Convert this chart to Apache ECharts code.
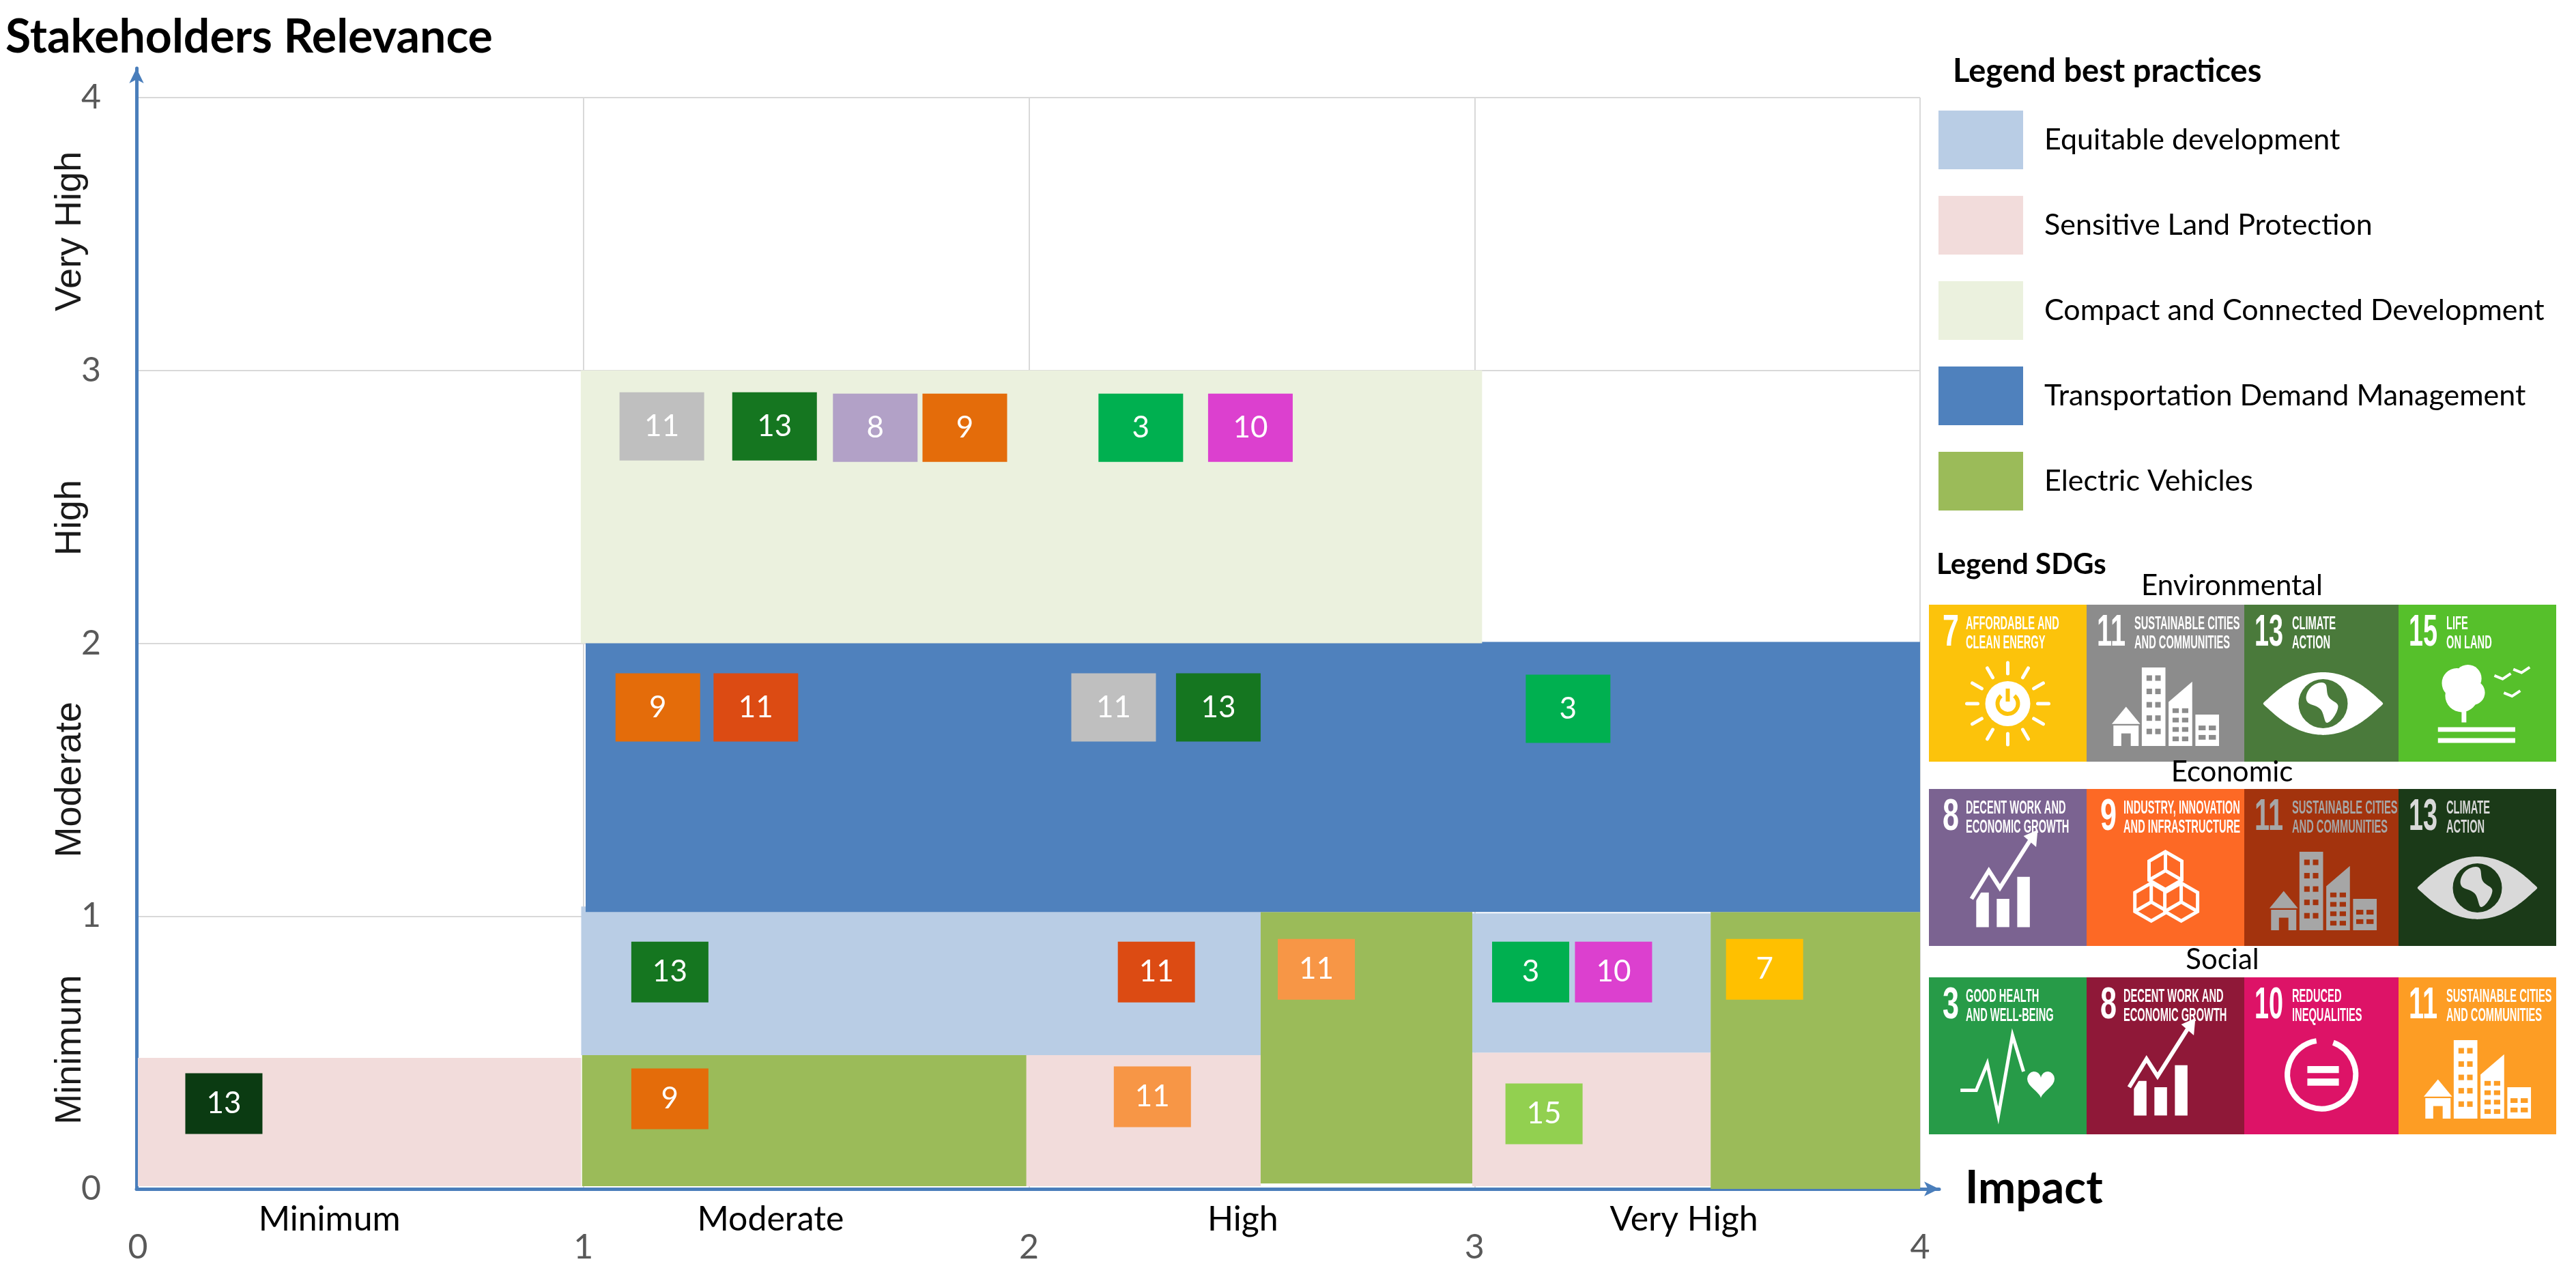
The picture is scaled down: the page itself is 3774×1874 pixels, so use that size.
<!DOCTYPE html>
<html>
<head>
<meta charset="utf-8">
<script src="https://cdn.jsdelivr.net/npm/echarts@6/dist/echarts.min.js"></script>
<style>
  html, body { margin: 0; padding: 0; background: #fff; }
  #chart { width: 3774px; height: 1874px; }
</style>
</head>
<body>
<div id="chart"></div>
<script>
// ---- data ----
const xLevelNames = ["Minimum", "Moderate", "High", "Very High"];
const xLevelPos = [0.43, 1.42, 2.48, 3.47];
const yLevelNames = ["Minimum", "Moderate", "High", "Very High"];
const yLevelPos = [0.51, 1.5, 2.46, 3.51];

const practiceNames = [
  "Equitable development",
  "Sensitive Land Protection",
  "Compact and Connected Development",
  "Transportation Demand Management",
  "Electric Vehicles",
];

// background areas of each best practice (impact x0..x1, relevance y0..y1)
const bandPractice = [
  "Sensitive Land Protection", "Sensitive Land Protection", "Sensitive Land Protection",
  "Equitable development", "Equitable development",
  "Electric Vehicles", "Electric Vehicles", "Electric Vehicles",
  "Transportation Demand Management",
  "Compact and Connected Development",
];
const bandX0 = [0, 1.985, 2.995, 0.995, 2.995, 0.997, 2.52, 3.53, 1.005, 0.994];
const bandX1 = [0.995, 2.52, 3.53, 2.52, 3.53, 1.994, 2.995, 4.0, 4.0, 3.017];
const bandY0 = [0.01, 0.01, 0.01, 0.49, 0.5, 0.01, 0.02, 0.0, 1.015, 2.0];
const bandY1 = [0.48, 0.5, 0.5, 1.035, 1.01, 0.49, 1.015, 1.015, 2.005, 3.0];

// SDG boxes placed on the matrix
const boxImpact = [1.176, 1.429, 1.655, 1.856, 2.251, 2.497,
  1.167, 1.387, 2.19, 2.425, 3.21,
  1.194, 2.286, 2.645, 3.126, 3.312, 3.651,
  0.193, 1.194, 2.277, 3.156];
const boxRelevance = [2.795, 2.795, 2.79, 2.79, 2.79, 2.79,
  1.765, 1.765, 1.765, 1.765, 1.76,
  0.795, 0.795, 0.805, 0.795, 0.795, 0.805,
  0.3125, 0.33, 0.3375, 0.275];
const boxGoal = [11, 13, 8, 9, 3, 10,
  9, 11, 11, 13, 3,
  13, 11, 11, 3, 10, 7,
  13, 9, 11, 15];
const boxPillar = ["Env", "Env", "Econ", "Econ", "Soc", "Soc",
  "Econ", "Econ", "Env", "Env", "Soc",
  "Env", "Econ", "Soc", "Soc", "Soc", "Env",
  "Econ", "Econ", "Soc", "Env"];

// SDG legend
const sdgGroups = ["Environmental", "Economic", "Social"];
const sdgGoals = [[7, 11, 13, 15], [8, 9, 11, 13], [3, 8, 10, 11]];
const sdgTitles = [
  ["AFFORDABLE AND\nCLEAN ENERGY", "SUSTAINABLE CITIES\nAND COMMUNITIES", "CLIMATE\nACTION", "LIFE\nON LAND"],
  ["DECENT WORK AND\nECONOMIC GROWTH", "INDUSTRY, INNOVATION\nAND INFRASTRUCTURE", "SUSTAINABLE CITIES\nAND COMMUNITIES", "CLIMATE\nACTION"],
  ["GOOD HEALTH\nAND WELL-BEING", "DECENT WORK AND\nECONOMIC GROWTH", "REDUCED\nINEQUALITIES", "SUSTAINABLE CITIES\nAND COMMUNITIES"],
];

// ---- styles ----
const FONT = 'Lato, "Open Sans", sans-serif';
const TILE_FONT = '"Liberation Sans Narrow", "Liberation Sans", Arial, sans-serif';
const practiceColors = {
  "Equitable development": "#B9CDE5",
  "Sensitive Land Protection": "#F2DCDB",
  "Compact and Connected Development": "#EBF1DE",
  "Transportation Demand Management": "#4F81BD",
  "Electric Vehicles": "#9BBB59",
};
const drawOrder = ["Sensitive Land Protection", "Equitable development", "Electric Vehicles",
  "Transportation Demand Management", "Compact and Connected Development"];
const boxColors = {
  Env7: "#FFC000", Env11: "#BFBFBF", Env13: "#157620", Env15: "#92D050",
  Econ8: "#B2A1C7", Econ9: "#E46C0A", Econ11: "#DC4B13", Econ13: "#0B3B12",
  Soc3: "#00B050", Soc10: "#DC40CF", Soc11: "#F79646",
};
const tileColors = [
  ["#FCC30B", "#8C8C8C", "#4A7A3B", "#56C02B"],
  ["#7B6391", "#FD6925", "#A3330D", "#1B3A18"],
  ["#279B48", "#8F1838", "#DD1367", "#FD9D24"],
];
const tileFg = [
  ["#fff", "#fff", "#fff", "#fff"],
  ["#fff", "#fff", "#A6A6A6", "#D9D9D9"],
  ["#fff", "#fff", "#fff", "#fff"],
];
const iconByGoal = { 7: "sun", 11: "city", 13: "eye", 15: "tree", 8: "growth", 9: "cubes", 3: "heart", 10: "equal" };
const rowTop = [886, 1156, 1432];
const colLeft = [2826, 3057, 3288, 3514];
const tileW = 231, tileH = 230;
const groupLabelY = [858, 1131, 1406];
const groupLabelX = [3270, 3270, 3256];

const measureCtx = document.createElement("canvas").getContext("2d");
function textWidth(str, font) {
  measureCtx.font = font;
  return measureCtx.measureText(str).width;
}

function tileIcon(kind, t) {
  const P = (fx, fy) => [t.x + fx * t.w, t.y + fy * t.h];
  const R = (fx0, fy0, fx1, fy1, color) => {
    const a = P(fx0, fy0), b = P(fx1, fy1);
    return { type: "rect", shape: { x: a[0], y: a[1], width: b[0] - a[0], height: b[1] - a[1] }, style: { fill: color } };
  };
  const out = [];
  if (kind === "sun") {
    const c = P(0.5, 0.63);
    for (let i = 0; i < 12; i++) {
      const a = (i * Math.PI) / 6;
      out.push({ type: "line", shape: { x1: c[0] + 44 * Math.sin(a), y1: c[1] - 44 * Math.cos(a), x2: c[0] + 60 * Math.sin(a), y2: c[1] - 60 * Math.cos(a) },
        style: { stroke: t.fg, lineWidth: 5, lineCap: "round" } });
    }
    out.push({ type: "circle", shape: { cx: c[0], cy: c[1], r: 33 }, style: { fill: t.fg } });
    out.push({ type: "arc", shape: { cx: c[0], cy: c[1], r: 15, startAngle: -Math.PI / 2 + 0.7, endAngle: -Math.PI / 2 - 0.7 + 2 * Math.PI }, style: { stroke: t.bg, lineWidth: 6, fill: null } });
    out.push({ type: "line", shape: { x1: c[0], y1: c[1] - 22, x2: c[0], y2: c[1] - 3 }, style: { stroke: t.bg, lineWidth: 6 } });
  } else if (kind === "city") {
    const roof = [P(0.16, 0.76), P(0.25, 0.65), P(0.34, 0.76)];
    out.push({ type: "polygon", shape: { points: roof }, style: { fill: t.fg } });
    out.push(R(0.17, 0.77, 0.33, 0.9, t.fg));
    out.push(R(0.22, 0.82, 0.28, 0.9, t.bg));
    out.push(R(0.35, 0.4, 0.5, 0.9, t.fg));
    for (let r = 0; r < 5; r++) {
      out.push(R(0.38, 0.45 + r * 0.085, 0.415, 0.485 + r * 0.085, t.bg));
      out.push(R(0.435, 0.45 + r * 0.085, 0.47, 0.485 + r * 0.085, t.bg));
    }
    out.push({ type: "polygon", shape: { points: [P(0.52, 0.62), P(0.67, 0.49), P(0.67, 0.9), P(0.52, 0.9)] }, style: { fill: t.fg } });
    for (let r = 0; r < 4; r++) {
      out.push(R(0.545, 0.66 + r * 0.06, 0.585, 0.69 + r * 0.06, t.bg));
      out.push(R(0.605, 0.66 + r * 0.06, 0.645, 0.69 + r * 0.06, t.bg));
    }
    out.push(R(0.69, 0.7, 0.84, 0.9, t.fg));
    for (let r = 0; r < 2; r++) {
      out.push(R(0.71, 0.77 + r * 0.06, 0.755, 0.8 + r * 0.06, t.bg));
      out.push(R(0.775, 0.77 + r * 0.06, 0.82, 0.8 + r * 0.06, t.bg));
    }
  } else if (kind === "eye") {
    const c = P(0.5, 0.63);
    const rx = 0.38 * t.w, ry = 0.2 * t.h;
    const lens = [];
    for (let i = 0; i <= 24; i++) {
      const u = -1 + i / 12;
      lens.push([c[0] + rx * u, c[1] - ry * (1 - u * u)]);
    }
    for (let i = 23; i >= 1; i--) {
      const u = -1 + i / 12;
      lens.push([c[0] + rx * u, c[1] + ry * (1 - u * u)]);
    }
    out.push({ type: "polygon", shape: { points: lens, smooth: 0.2 }, style: { fill: t.fg } });
    out.push({ type: "circle", shape: { cx: c[0], cy: c[1], r: 36 }, style: { fill: t.bg } });
    out.push({ type: "polygon", shape: { points: [[c[0] - 18, c[1] - 24], [c[0] + 2, c[1] - 30], [c[0] + 8, c[1] - 10], [c[0] + 22, c[1] + 4], [c[0] + 6, c[1] + 28], [c[0] - 4, c[1] + 8], [c[0] - 24, c[1] - 4]], smooth: 0.4 }, style: { fill: t.fg } });
  } else if (kind === "tree") {
    [[0.37, 0.5, 22], [0.44, 0.47, 20], [0.4, 0.58, 24], [0.47, 0.56, 18]].forEach((c) => {
      const p = P(c[0], c[1]);
      out.push({ type: "circle", shape: { cx: p[0], cy: p[1], r: c[2] }, style: { fill: t.fg } });
    });
    out.push(R(0.4, 0.64, 0.43, 0.75, t.fg));
    out.push(R(0.25, 0.78, 0.74, 0.81, t.fg));
    out.push(R(0.25, 0.85, 0.74, 0.88, t.fg));
    [[0.66, 0.46], [0.72, 0.57], [0.78, 0.42]].forEach((c) => {
      const p = P(c[0], c[1]);
      out.push({ type: "polyline", shape: { points: [[p[0] - 12, p[1] - 2], [p[0], p[1] + 3], [p[0] + 12, p[1] - 5]] }, style: { stroke: t.fg, lineWidth: 4, fill: null } });
    });
  } else if (kind === "growth") {
    out.push(R(0.3, 0.66, 0.38, 0.88, t.fg));
    out.push(R(0.43, 0.7, 0.51, 0.88, t.fg));
    out.push(R(0.56, 0.56, 0.64, 0.88, t.fg));
    const zig = [P(0.27, 0.7), P(0.38, 0.52), P(0.45, 0.63), P(0.64, 0.33)];
    out.push({ type: "polyline", shape: { points: zig }, style: { stroke: t.bg, lineWidth: 14, fill: null } });
    out.push({ type: "polyline", shape: { points: zig }, style: { stroke: t.fg, lineWidth: 6, fill: null } });
    out.push({ type: "polygon", shape: { points: [P(0.69, 0.26), P(0.6, 0.3), P(0.68, 0.37)] }, style: { fill: t.fg } });
  } else if (kind === "cubes") {
    const s = 0.12 * t.w;
    [[0.5, 0.52], [0.41, 0.72], [0.6, 0.72]].forEach((c) => {
      const p = P(c[0], c[1]);
      const hex = [];
      for (let i = 0; i < 6; i++) {
        const a = (i * Math.PI) / 3 - Math.PI / 2;
        hex.push([p[0] + s * Math.cos(a), p[1] + s * Math.sin(a)]);
      }
      out.push({ type: "polygon", shape: { points: hex }, style: { stroke: t.fg, lineWidth: 5, fill: t.bg } });
      out.push({ type: "polyline", shape: { points: [hex[4], [p[0], p[1]], hex[2]] }, style: { stroke: t.fg, lineWidth: 5, fill: null } });
      out.push({ type: "line", shape: { x1: p[0], y1: p[1], x2: hex[0][0], y2: hex[0][1] }, style: { stroke: t.fg, lineWidth: 5 } });
    });
  } else if (kind === "heart") {
    out.push({ type: "polyline", shape: { points: [P(0.2, 0.72), P(0.3, 0.72), P(0.37, 0.55), P(0.44, 0.88), P(0.53, 0.37), P(0.6, 0.6)] }, style: { stroke: t.fg, lineWidth: 5, fill: null } });
    const hc = P(0.71, 0.67);
    const heart = [];
    for (let i = 0; i < 40; i++) {
      const a = (i / 40) * Math.PI * 2;
      const hx = 16 * Math.pow(Math.sin(a), 3);
      const hy = 13 * Math.cos(a) - 5 * Math.cos(2 * a) - 2 * Math.cos(3 * a) - Math.cos(4 * a);
      heart.push([hc[0] + hx * 1.25, hc[1] - hy * 1.35]);
    }
    out.push({ type: "polygon", shape: { points: heart }, style: { fill: t.fg } });
  } else if (kind === "equal") {
    const c = P(0.49, 0.62);
    out.push({ type: "arc", shape: { cx: c[0], cy: c[1], r: 50, startAngle: -Math.PI / 2 + 0.35, endAngle: -Math.PI / 2 - 0.15 + 2 * Math.PI }, style: { stroke: t.fg, lineWidth: 8, fill: null } });
    out.push(R(0.4, 0.565, 0.6, 0.61, t.fg));
    out.push(R(0.4, 0.645, 0.6, 0.69, t.fg));
  }
  return out;
}

function buildSdgLegend() {
  const els = [];
  els.push({ type: "text", x: 2837, y: 827, style: { text: "Legend SDGs", fontSize: 42, fontWeight: "bold", fontFamily: FONT, fill: "#000", align: "left", verticalAlign: "middle" } });
  const numLeft = (goal) => (goal > 9 ? 15 : 20);
  const numWidth = (goal) => (goal > 9 ? 42 : 24);
  const titleLeft = (goal) => numLeft(goal) + numWidth(goal) + (goal > 9 ? 13 : 10);
  // uniform condensed scale for tile titles
  let titleScale = 1;
  sdgGoals.forEach((row, r) => row.forEach((goal, c) => {
    const avail = tileW - titleLeft(goal) - 6;
    sdgTitles[r][c].split("\n").forEach((line) => {
      titleScale = Math.min(titleScale, avail / textWidth(line, `bold 27px ${TILE_FONT}`));
    });
  }));
  sdgGroups.forEach((name, r) => {
    els.push({ type: "text", x: groupLabelX[r], y: groupLabelY[r], style: { text: name, fontSize: 42, fontFamily: FONT, fill: "#000", align: "center", verticalAlign: "middle" } });
    sdgGoals[r].forEach((goal, c) => {
      const t = { x: colLeft[c], y: rowTop[r], w: tileW, h: tileH, bg: tileColors[r][c], fg: tileFg[r][c] };
      els.push({ type: "rect", shape: { x: t.x, y: t.y, width: t.w, height: t.h }, style: { fill: t.bg } });
      const label = String(goal);
      const numScale = numWidth(goal) / textWidth(label, `bold 64px ${TILE_FONT}`);
      els.push({ type: "text", x: t.x + numLeft(goal), y: t.y + 10, scaleX: numScale, style: { text: label, fontSize: 64, fontWeight: "bold", fontFamily: TILE_FONT, fill: t.fg, align: "left", verticalAlign: "top" } });
      els.push({ type: "text", x: t.x + titleLeft(goal), y: t.y + 15, scaleX: titleScale, style: { text: sdgTitles[r][c], fontSize: 27, lineHeight: 28, fontWeight: "bold", fontFamily: TILE_FONT, fill: t.fg, align: "left", verticalAlign: "top" } });
      tileIcon(iconByGoal[goal], t).forEach((e) => els.push(e));
    });
  });
  return els;
}

const nameAt = (pos, names) => (v) => {
  let best = 0;
  pos.forEach((p, i) => { if (Math.abs(p - v) < Math.abs(pos[best] - v)) best = i; });
  return names[best];
};

const bandSeries = drawOrder.map((name) => ({
  name,
  type: "custom",
  xAxisIndex: 0,
  yAxisIndex: 0,
  itemStyle: { color: practiceColors[name] },
  encode: { x: [0, 1], y: [2, 3] },
  data: bandPractice.map((p, i) => (p === name ? [bandX0[i], bandX1[i], bandY0[i], bandY1[i]] : null)).filter(Boolean),
  renderItem: (params, api) => {
    const tl = api.coord([api.value(0), api.value(3)]);
    const br = api.coord([api.value(1), api.value(2)]);
    return { type: "rect", shape: { x: tl[0], y: tl[1], width: br[0] - tl[0], height: br[1] - tl[1] }, style: { fill: api.visual("color") } };
  },
}));

const boxSeries = {
  name: "SDGs",
  type: "scatter",
  xAxisIndex: 0,
  yAxisIndex: 0,
  z: 5,
  symbol: "rect",
  symbolSize: (v) => (v[1] > 1.5 ? [124, 100] : [113, 89]),
  itemStyle: { color: (p) => boxColors[p.value[3] + p.value[2]], opacity: 1 },
  label: { show: true, position: "inside", formatter: (p) => String(p.value[2]), color: "#fff", fontSize: 44, fontFamily: FONT },
  data: boxImpact.map((x, i) => [x, boxRelevance[i], boxGoal[i], boxPillar[i]]),
};

const chart = echarts.init(document.getElementById("chart"));
chart.setOption({
  animation: false,
  backgroundColor: "#fff",
  title: [
    { text: "Stakeholders Relevance", left: 3, top: 16, textStyle: { fontSize: 68, fontWeight: "bold", color: "#000", fontFamily: FONT } },
    { text: "Legend best practices", left: 2856, top: 76, textStyle: { fontSize: 47, fontWeight: "bold", color: "#000", fontFamily: FONT } },
  ],
  legend: {
    orient: "vertical", left: 2840, top: 162, padding: 0,
    itemWidth: 124, itemHeight: 86, itemGap: 39, icon: "rect",
    selectedMode: false,
    data: practiceNames,
    textStyle: { fontSize: 43, color: "#000", fontFamily: FONT, padding: [0, 0, 0, 26] },
  },
  grid: [
    { left: 202, right: 961, top: 143, bottom: 132, outerBoundsMode: "none" },
    { left: 200, right: 933, top: 100, bottom: 132, outerBoundsMode: "none" },
  ],
  xAxis: [
    { gridIndex: 0, type: "value", min: 0, max: 4, interval: 1, offset: 6,
      axisLine: { show: true, lineStyle: { color: "#A6A6A6", width: 3 } }, axisTick: { show: false },
      splitLine: { show: true, lineStyle: { color: "#D9D9D9", width: 2 } },
      axisLabel: { fontSize: 50, color: "#595959", margin: 55, fontFamily: FONT } },
    { gridIndex: 0, type: "value", min: 0, max: 4, position: "bottom",
      axisLine: { show: false }, axisTick: { show: false }, splitLine: { show: false },
      axisLabel: { customValues: xLevelPos, formatter: nameAt(xLevelPos, xLevelNames), fontSize: 50, color: "#000", margin: 20, fontFamily: FONT } },
    { gridIndex: 1, type: "value", min: 0, max: 1,
      axisLine: { show: true, symbol: ["none", "arrow"], symbolSize: [16, 22], lineStyle: { color: "#4A7EBB", width: 5 } },
      axisTick: { show: false }, axisLabel: { show: false }, splitLine: { show: false },
      name: "Impact", nameLocation: "end", nameGap: 38,
      nameTextStyle: { fontSize: 66, fontWeight: "bold", color: "#000", fontFamily: FONT } },
  ],
  yAxis: [
    { gridIndex: 0, type: "value", min: 0, max: 4, interval: 1,
      axisLine: { show: false }, axisTick: { show: false },
      splitLine: { show: true, lineStyle: { color: "#D9D9D9", width: 2 } },
      axisLabel: { fontSize: 50, color: "#595959", margin: 54, fontFamily: FONT } },
    { gridIndex: 0, type: "value", min: 0, max: 4, position: "left",
      axisLine: { show: false }, axisTick: { show: false }, splitLine: { show: false },
      axisLabel: { customValues: yLevelPos, formatter: nameAt(yLevelPos, yLevelNames), rotate: 90, fontSize: 54, color: "#1a1a1a", margin: 72, fontFamily: '"Liberation Sans", Arial, sans-serif' } },
    { gridIndex: 1, type: "value", min: 0, max: 1,
      axisLine: { show: true, symbol: ["none", "arrow"], symbolSize: [16, 22], lineStyle: { color: "#4A7EBB", width: 5 } },
      axisTick: { show: false }, axisLabel: { show: false }, splitLine: { show: false } },
  ],
  graphic: buildSdgLegend(),
  series: [...bandSeries, boxSeries],
});
window.addEventListener("resize", () => chart.resize());
</script>
</body>
</html>
